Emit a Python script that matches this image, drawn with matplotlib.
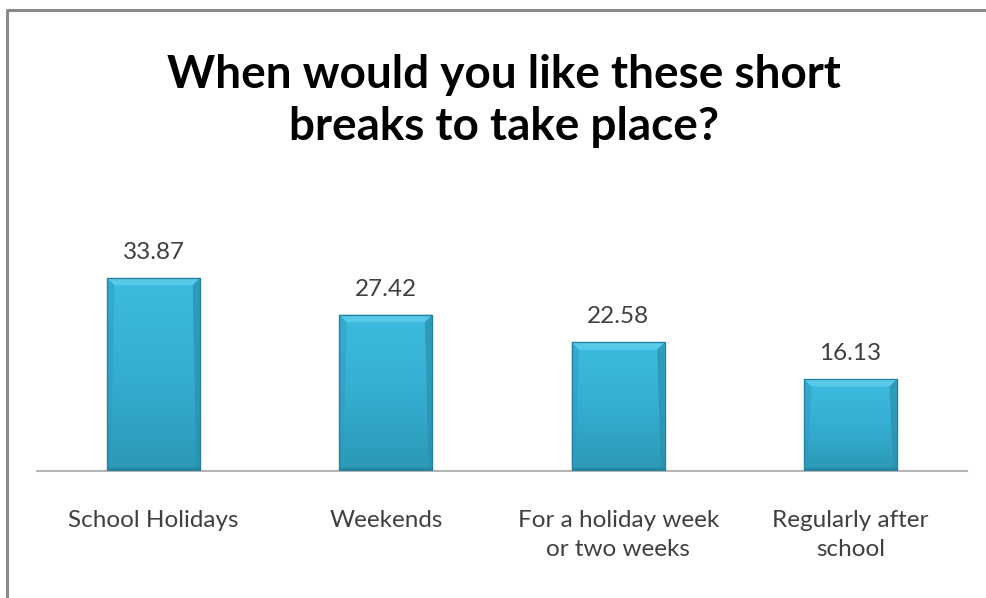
import numpy as np
import matplotlib
matplotlib.use('Agg')
from matplotlib import pyplot as plt
from matplotlib.patches import Polygon
from matplotlib.lines import Line2D
from matplotlib.colors import LinearSegmentedColormap

categorias = ['School Holidays', 'Weekends', 'For a holiday week\nor two weeks',
              'Regularly after\nschool']
valores = [33.87, 27.42, 22.58, 16.13]
etiquetas = ['33.87', '27.42', '22.58', '16.13']

W, H = 987, 598
fig = plt.figure(figsize=(W / 100, H / 100), dpi=100)
fig.patch.set_facecolor('white')

# ejes en pixeles de la imagen
x0, x1 = 37.4, 966.6
y_base, y_top = 471, 243
ax = fig.add_axes([x0 / W, (H - y_base) / H, (x1 - x0) / W, (y_base - y_top) / H])
ax.set_xlim(-0.5, 3.5)
ax.set_ylim(0, 40)
ax.patch.set_alpha(0)

barras = ax.bar(range(len(valores)), valores, width=0.4, color='#33A8CB',
                edgecolor='#24839F', linewidth=0.8, zorder=2)

cmap = LinearSegmentedColormap.from_list('azul', ['#3DBCE0', '#35AED2', '#2B98B6'])
grad = np.linspace(0, 1, 256).reshape(-1, 1)
for b in barras:
    x, w, h = b.get_x(), b.get_width(), b.get_height()
    im = ax.imshow(grad, cmap=cmap, aspect='auto', extent=(x, x + w, 0, h),
                   zorder=3, interpolation='bilinear')
    im.set_clip_path(b)
    dx = w * 0.08
    dy = 1.3
    # bisel superior
    ax.add_patch(Polygon([(x, h), (x + w, h), (x + w - dx, h - dy), (x + dx, h - dy)],
                         closed=True, facecolor='#58CAE9', edgecolor='none', zorder=4))
    # lados
    ax.add_patch(Polygon([(x + w, h), (x + w, 0), (x + w - dx * 0.5, 0.3), (x + w - dx, h - dy)],
                         closed=True, facecolor='#2A8FAD', edgecolor='none', alpha=0.7, zorder=4))
    ax.add_patch(Polygon([(x, h), (x, 0), (x + dx * 0.5, 0.3), (x + dx, h - dy)],
                         closed=True, facecolor='#2E9CBC', edgecolor='none', alpha=0.5, zorder=4))
    ax.add_patch(Polygon([(x, 0), (x + w, 0), (x + w, 0.5), (x, 0.5)],
                         closed=True, facecolor='#247F99', edgecolor='none', alpha=0.7, zorder=4))
    ax.plot([x, x + w, x + w, x, x], [0, 0, h, h, 0], color='#23809B', lw=0.9, zorder=5)

for i, v in enumerate(valores):
    ax.text(i, v + 2.6, etiquetas[i], ha='center', va='bottom', fontsize=17.5,
            family='Lato', color='#404040')

for s in ['top', 'left', 'right']:
    ax.spines[s].set_visible(False)
ax.spines['bottom'].set_color('#B4B4B4')
ax.spines['bottom'].set_linewidth(1.5)
ax.spines['bottom'].set_zorder(1)
ax.set_yticks([])
ax.set_xticks(range(len(categorias)))
ax.set_xticklabels(categorias, fontsize=17.5, family='Lato', color='#404040',
                   linespacing=1.5)
ax.tick_params(axis='x', length=0, pad=28)
for t in ax.get_xticklabels():
    t.set_verticalalignment('top')

fig.text(0.5 * 1008 / W, 1 - 101 / H, 'When would you like these short\nbreaks to take place?',
         ha='center', va='center', fontsize=33, fontweight='bold', family='Lato',
         color='black', linespacing=1.3)

# marco
fig.add_artist(Line2D([7.5 / W, 7.5 / W, 1], [0, 1 - 9.5 / H, 1 - 9.5 / H],
                      color='#8A8A8A', lw=2.2, transform=fig.transFigure))

plt.savefig('out.png', dpi=100)
